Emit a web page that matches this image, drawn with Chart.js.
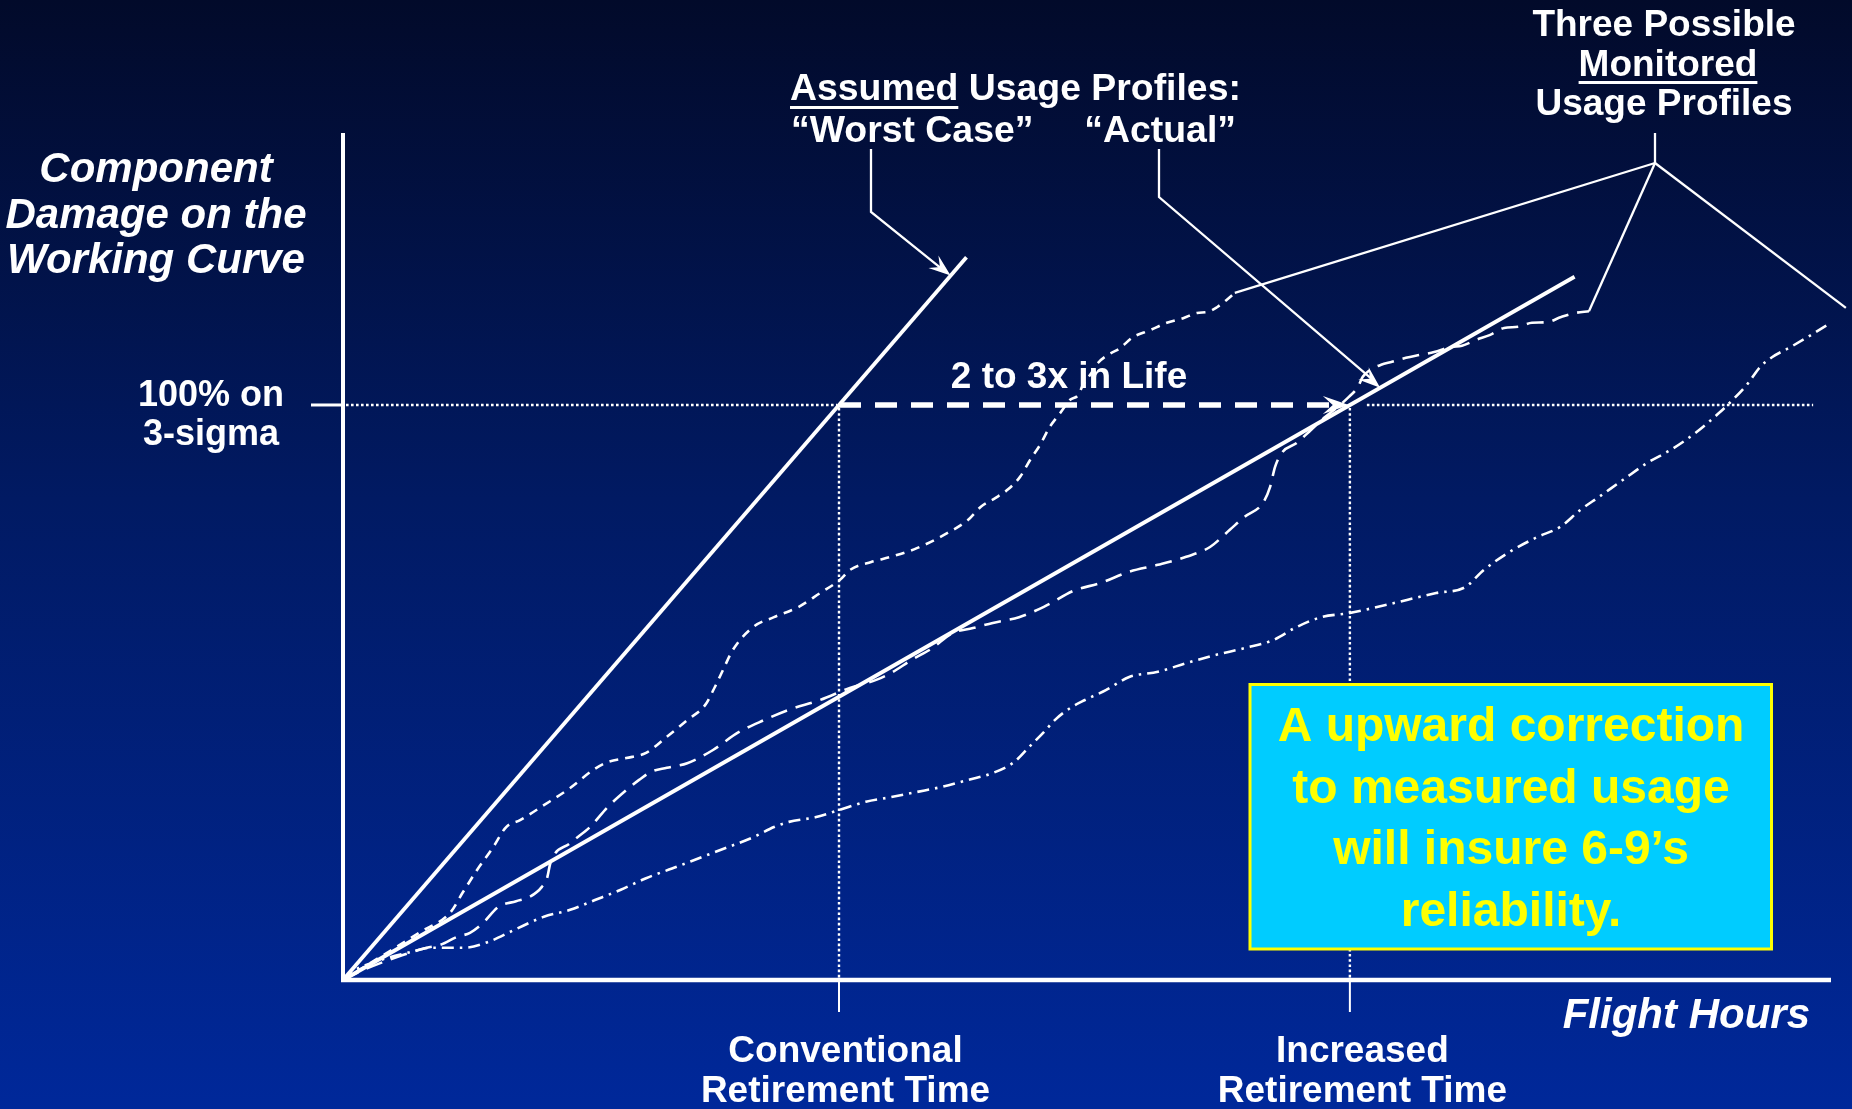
<!DOCTYPE html>
<html>
<head>
<meta charset="utf-8">
<script src="https://cdn.jsdelivr.net/npm/chart.js@4.4.1/dist/chart.umd.min.js"></script>
<style>
  html, body { margin: 0; padding: 0; background: #011540; overflow: hidden; }
  #wrap { position: relative; width: 1852px; height: 1109px; }
  canvas { display: block; }
</style>
</head>
<body>
<div id="wrap"><canvas id="lifeChart" width="1852" height="1109"></canvas></div>
<script>
// Flight hours are expressed in multiples of the conventional retirement time,
// damage in percent of the 3-sigma working-curve limit.
const hoursMax = 3.0;
const damageMax = 147.3;
const threeSigmaDamage = 100;
const conventionalLife = 1.0;
const increasedLife = 2.03;

// Assumed usage profiles (straight lines from the origin)
const worstCaseHours = [0, 1.257];
const worstCaseDamage = [0, 125.7];
const actualHours = [0, 2.483];
const actualDamage = [0, 122.3];

// Three possible monitored usage profiles
const monitoredHighHours = [0, 0.075, 0.155, 0.216, 0.242, 0.270, 0.302, 0.329, 0.357, 0.405, 0.458, 0.504, 0.534, 0.571, 0.611, 0.653, 0.694, 0.730, 0.750, 0.766, 0.786, 0.827, 0.869, 0.919, 0.962, 1.002, 1.022, 1.065, 1.105, 1.157, 1.218, 1.260, 1.286, 1.315, 1.339, 1.365, 1.385, 1.405, 1.425, 1.446, 1.466, 1.482, 1.492, 1.506, 1.522, 1.542, 1.567, 1.591, 1.627, 1.661, 1.694, 1.722, 1.744, 1.762, 1.782, 1.798];
const monitoredHighDamage = [0, 4.0, 8.3, 11.7, 15.3, 19.1, 23.0, 26.6, 27.8, 30.4, 33.4, 36.5, 37.9, 38.6, 39.5, 42.3, 45.2, 47.8, 51.0, 53.9, 57.4, 61.4, 63.1, 64.9, 67.3, 69.6, 71.3, 72.7, 73.6, 75.1, 77.7, 80.0, 82.3, 83.8, 85.2, 87.5, 90.4, 93.0, 96.2, 98.6, 100.9, 101.7, 103.5, 105.2, 107.3, 108.7, 109.9, 111.7, 113.0, 114.3, 115.1, 116.0, 116.2, 117.0, 118.3, 119.5];

const monitoredMidHours = [0, 0.040, 0.109, 0.169, 0.196, 0.230, 0.256, 0.282, 0.313, 0.349, 0.375, 0.401, 0.412, 0.418, 0.458, 0.498, 0.534, 0.571, 0.597, 0.621, 0.653, 0.694, 0.746, 0.796, 0.849, 0.899, 0.962, 1.022, 1.075, 1.105, 1.147, 1.188, 1.228, 1.270, 1.310, 1.363, 1.413, 1.476, 1.526, 1.585, 1.643, 1.700, 1.748, 1.788, 1.817, 1.855, 1.869, 1.879, 1.893, 1.923, 1.952, 1.980, 2.010, 2.028, 2.046, 2.056, 2.071, 2.093, 2.115, 2.143, 2.171, 2.200, 2.234, 2.256, 2.284, 2.313, 2.341, 2.369, 2.397, 2.427, 2.456, 2.484, 2.512];
const monitoredMidDamage = [0, 1.7, 4.0, 5.6, 6.1, 7.5, 8.2, 9.9, 12.7, 13.7, 14.4, 16.2, 17.9, 20.3, 23.8, 26.6, 30.1, 33.0, 34.8, 36.2, 36.9, 37.7, 40.0, 43.0, 45.2, 47.0, 48.7, 50.8, 52.2, 53.4, 55.7, 57.7, 60.3, 61.2, 62.1, 63.1, 64.9, 67.8, 69.0, 71.0, 72.2, 73.6, 75.3, 78.3, 80.5, 83.0, 85.7, 89.2, 91.7, 93.4, 95.7, 97.9, 100.0, 101.4, 103.1, 104.9, 106.1, 107.0, 107.5, 108.2, 108.7, 109.2, 110.1, 110.3, 111.3, 112.2, 113.4, 113.6, 114.3, 114.4, 115.3, 116.0, 116.3];

const monitoredLowHours = [0, 0.014, 0.077, 0.129, 0.179, 0.242, 0.292, 0.345, 0.405, 0.458, 0.508, 0.560, 0.611, 0.673, 0.724, 0.776, 0.829, 0.869, 0.899, 0.952, 1.002, 1.054, 1.105, 1.157, 1.208, 1.260, 1.310, 1.353, 1.383, 1.413, 1.435, 1.466, 1.496, 1.538, 1.585, 1.643, 1.700, 1.758, 1.817, 1.875, 1.923, 1.972, 2.028, 2.087, 2.145, 2.204, 2.262, 2.300, 2.349, 2.407, 2.454, 2.494, 2.532, 2.581, 2.629, 2.677, 2.726, 2.774, 2.802, 2.833, 2.857, 2.881, 2.919, 2.966, 3.000];
const monitoredLowDamage = [0, 1.2, 3.5, 4.7, 5.6, 5.6, 6.6, 8.7, 11.0, 12.2, 13.9, 15.7, 17.7, 19.7, 21.4, 23.1, 24.9, 26.6, 27.5, 28.3, 29.6, 31.0, 31.8, 32.7, 33.6, 34.8, 36.0, 37.9, 40.5, 43.1, 45.2, 47.3, 48.7, 50.4, 52.7, 53.6, 55.1, 56.5, 57.7, 59.1, 61.4, 63.1, 63.8, 64.9, 66.1, 67.3, 68.3, 71.3, 74.3, 77.0, 78.8, 81.7, 84.0, 87.0, 89.9, 92.2, 95.1, 98.6, 100.9, 103.8, 106.6, 108.3, 110.1, 112.5, 114.3];

// Text blocks
const yTitleLines = ['Component', 'Damage on the', 'Working Curve'];
const limitLabelLines = ['100% on', '3-sigma'];
const xTitle = 'Flight Hours';
const conventionalLabel = ['Conventional', 'Retirement Time'];
const increasedLabel = ['Increased', 'Retirement Time'];
const lifeGainLabel = '2 to 3x in Life';
const assumedHeader = ['Assumed', ' Usage Profiles:'];
const worstCaseLabel = '\u201CWorst Case\u201D';
const actualLabel = '\u201CActual\u201D';
const monitoredHeader = ['Three Possible', 'Monitored', 'Usage Profiles'];
const noteLines = ['A upward correction', 'to measured usage', 'will insure 6-9\u2019s', 'reliability.'];

const FONT = '"Liberation Sans", Arial, Helvetica, sans-serif';
const WHITE = '#ffffff';

function pairs(xs, ys) {
  return xs.map((x, i) => ({ x: x, y: ys[i] }));
}

function px(chart, v) { return chart.scales.x.getPixelForValue(v); }
function py(chart, v) { return chart.scales.y.getPixelForValue(v); }

function line(ctx, x1, y1, x2, y2, width, dash, cap) {
  ctx.save();
  ctx.strokeStyle = WHITE;
  ctx.lineWidth = width;
  ctx.lineCap = cap || 'butt';
  ctx.setLineDash(dash || []);
  ctx.beginPath();
  ctx.moveTo(x1, y1);
  ctx.lineTo(x2, y2);
  ctx.stroke();
  ctx.restore();
}

// Barbed arrow head with its tip at (tx, ty), pointing along the direction from (fx, fy)
function arrowHead(ctx, fx, fy, tx, ty, len, half) {
  const a = Math.atan2(ty - fy, tx - fx);
  const c = Math.cos(a), s = Math.sin(a);
  const bx = tx - len * c, by = ty - len * s;
  const nx = tx - len * 0.62 * c, ny = ty - len * 0.62 * s;
  ctx.save();
  ctx.fillStyle = WHITE;
  ctx.beginPath();
  ctx.moveTo(tx, ty);
  ctx.lineTo(bx - half * s, by + half * c);
  ctx.lineTo(nx, ny);
  ctx.lineTo(bx + half * s, by - half * c);
  ctx.closePath();
  ctx.fill();
  ctx.restore();
}

function text(ctx, str, x, y, size, opts) {
  opts = opts || {};
  ctx.save();
  ctx.font = (opts.italic ? 'italic ' : '') + 'bold ' + size + 'px ' + FONT;
  ctx.fillStyle = opts.color || WHITE;
  ctx.textAlign = opts.align || 'center';
  ctx.textBaseline = 'alphabetic';
  ctx.fillText(str, x, y);
  let w = ctx.measureText(str).width;
  if (opts.underline) {
    let left = x;
    if (ctx.textAlign === 'center') left = x - w / 2;
    else if (ctx.textAlign === 'right') left = x - w;
    ctx.fillRect(left, y + opts.underline, w, 3);
  }
  ctx.restore();
  return w;
}

const slideBackground = {
  id: 'slideBackground',
  beforeDraw(chart) {
    const { ctx, width, height } = chart;
    const g = ctx.createLinearGradient(0, 0, 0, height);
    g.addColorStop(0, '#020a2a');
    g.addColorStop(0.45, '#011a63');
    g.addColorStop(1, '#00289a');
    ctx.save();
    ctx.fillStyle = g;
    ctx.fillRect(0, 0, width, height);
    ctx.restore();
  }
};

// 3-sigma limit and the two retirement times
const referenceLines = {
  id: 'referenceLines',
  beforeDatasetsDraw(chart) {
    const ctx = chart.ctx;
    const x0 = px(chart, 0);
    const yLimit = py(chart, threeSigmaDamage);
    const xConv = px(chart, conventionalLife);
    const xInc = px(chart, increasedLife);
    const yBase = py(chart, 0);

    // tick on the damage axis
    line(ctx, x0 - 32, yLimit, x0, yLimit, 3);
    // dotted limit line up to conventional life, and beyond increased life
    line(ctx, x0 + 3, yLimit, xConv - 2, yLimit, 2.6, [2.6, 2.4]);
    line(ctx, xInc + 17, yLimit, px(chart, 2.964), yLimit, 2.6, [2.6, 2.4]);
    // retirement times
    [xConv, xInc].forEach(xv => {
      line(ctx, xv, yLimit + 3, xv, yBase, 2.4, [2.6, 2.6]);
      line(ctx, xv, yBase, xv, yBase + 32, 2);
    });
    // life extension arrow
    line(ctx, xConv, yLimit, xInc - 20, yLimit, 5.5, [22, 14]);
    arrowHead(ctx, xConv, yLimit, xInc - 1, yLimit, 26, 9);
  }
};

const axesAndNotes = {
  id: 'axesAndNotes',
  afterDatasetsDraw(chart) {
    const ctx = chart.ctx;
    const area = chart.chartArea;
    const x0 = px(chart, 0), y0 = py(chart, 0);

    // axes
    line(ctx, x0, area.top, x0, y0 + 2, 4);
    line(ctx, x0 - 2, y0, area.right, y0, 4.5);

    // leader: worst case
    const wTipX = px(chart, 1.225), wTipY = py(chart, 1.225 * worstCaseDamage[1] / worstCaseHours[1]);
    ctx.save();
    ctx.strokeStyle = WHITE; ctx.lineWidth = 2.3;
    ctx.beginPath();
    ctx.moveTo(871, 149); ctx.lineTo(871, 212); ctx.lineTo(wTipX - 6, wTipY - 4.5);
    ctx.stroke();
    ctx.restore();
    arrowHead(ctx, 871, 212, wTipX, wTipY, 22, 8);

    // leader: actual
    const aTipX = px(chart, 2.091), aTipY = py(chart, 2.091 * actualDamage[1] / actualHours[1]);
    ctx.save();
    ctx.strokeStyle = WHITE; ctx.lineWidth = 2.3;
    ctx.beginPath();
    ctx.moveTo(1159, 149); ctx.lineTo(1159, 197); ctx.lineTo(aTipX - 5, aTipY - 6);
    ctx.stroke();
    ctx.restore();
    arrowHead(ctx, 1159, 197, aTipX, aTipY, 22, 8);

    // leaders: monitored profiles
    const jx = 1655, jy = 163;
    const ends = [
      [px(chart, monitoredHighHours[monitoredHighHours.length - 1]), py(chart, monitoredHighDamage[monitoredHighDamage.length - 1])],
      [px(chart, monitoredMidHours[monitoredMidHours.length - 1]), py(chart, monitoredMidDamage[monitoredMidDamage.length - 1])],
      [px(chart, 3.03), py(chart, 116.9)]
    ];
    line(ctx, jx, 133, jx, jy, 2.3);
    ends.forEach(e => line(ctx, jx, jy, e[0], e[1], 2.3));

    // note box
    ctx.save();
    ctx.fillStyle = '#00ccff';
    ctx.fillRect(1250, 684.5, 521.5, 264.5);
    ctx.strokeStyle = '#ffff00';
    ctx.lineWidth = 3;
    ctx.strokeRect(1250, 684.5, 521.5, 264.5);
    ctx.restore();
  },
  afterDraw(chart) {
    const ctx = chart.ctx;
    const xConv = px(chart, conventionalLife);
    const xInc = px(chart, increasedLife);

    yTitleLines.forEach((s, i) => text(ctx, s, 156, 182 + i * 45.5, 42, { italic: true }));
    limitLabelLines.forEach((s, i) => text(ctx, s, 211, 406 + i * 39, 36));

    text(ctx, xTitle, 1810, 1028, 42, { italic: true, align: 'right' });
    conventionalLabel.forEach((s, i) => text(ctx, s, xConv + 6.5, 1062 + i * 40, 37));
    increasedLabel.forEach((s, i) => text(ctx, s, xInc + 12.5, 1062 + i * 40, 37));

    text(ctx, lifeGainLabel, 1069, 388, 37);

    const wA = text(ctx, assumedHeader[0], 790, 100, 37.4, { align: 'left', underline: 6 });
    text(ctx, assumedHeader[1], 790 + wA, 100, 37.4, { align: 'left' });
    text(ctx, worstCaseLabel, 791, 142, 37.4, { align: 'left' });
    text(ctx, actualLabel, 1236, 142, 37.4, { align: 'right' });

    text(ctx, monitoredHeader[0], 1664, 36, 37);
    text(ctx, monitoredHeader[1], 1668, 76, 37, { underline: 5 });
    text(ctx, monitoredHeader[2], 1664, 115, 37);

    noteLines.forEach((s, i) => text(ctx, s, 1511, 741 + i * 61.6, 48, { color: '#ffff00' }));
  }
};

const profileStyle = (dash, width) => ({
  borderColor: WHITE,
  borderWidth: width,
  borderDash: dash,
  borderCapStyle: 'butt',
  pointRadius: 0,
  pointHoverRadius: 0,
  fill: false,
  cubicInterpolationMode: 'monotone',
  clip: false
});

new Chart(document.getElementById('lifeChart'), {
  type: 'line',
  data: {
    datasets: [
      Object.assign({ label: 'Worst Case', data: pairs(worstCaseHours, worstCaseDamage) }, profileStyle([], 3.8)),
      Object.assign({ label: 'Actual', data: pairs(actualHours, actualDamage) }, profileStyle([], 3.8)),
      Object.assign({ label: 'Monitored (high)', data: pairs(monitoredHighHours, monitoredHighDamage) }, profileStyle([9, 7], 2.6)),
      Object.assign({ label: 'Monitored (mid)', data: pairs(monitoredMidHours, monitoredMidDamage) }, profileStyle([17, 9], 2.6)),
      Object.assign({ label: 'Monitored (low)', data: pairs(monitoredLowHours, monitoredLowDamage) }, profileStyle([12, 6, 2.5, 6], 2.6))
    ]
  },
  options: {
    responsive: false,
    animation: false,
    devicePixelRatio: 1,
    layout: { padding: { left: 343, right: 21, top: 133, bottom: 129 } },
    scales: {
      x: { type: 'linear', min: 0, max: hoursMax, display: false },
      y: { type: 'linear', min: 0, max: damageMax, display: false }
    },
    plugins: {
      legend: { display: false },
      tooltip: { enabled: false }
    },
    events: []
  },
  plugins: [slideBackground, referenceLines, axesAndNotes]
});
</script>
</body>
</html>
